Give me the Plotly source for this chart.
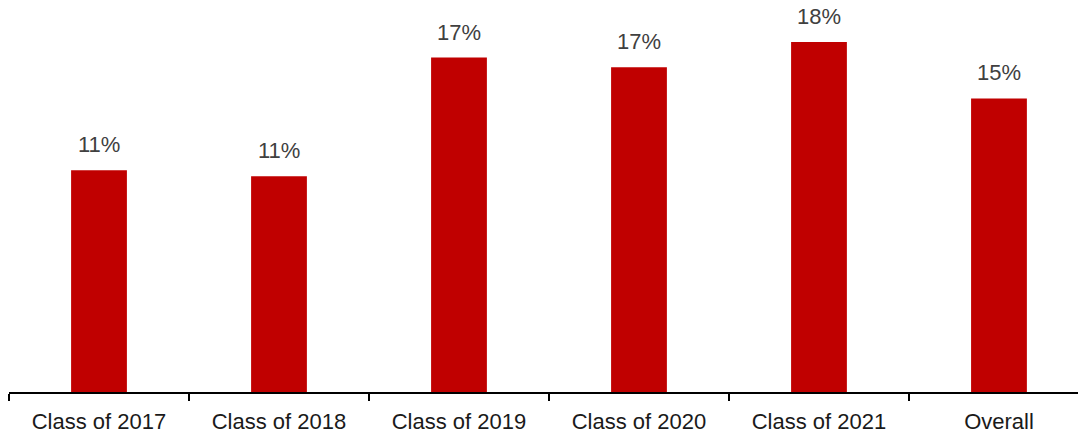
import plotly.graph_objects as go

categories = ["Class of 2017", "Class of 2018", "Class of 2019", "Class of 2020", "Class of 2021", "Overall"]
rates = [11.4, 11.1, 17.2, 16.7, 18.0, 15.1]

BAR_COLOR = "#c00000"
FONT = "Liberation Sans, Arial, sans-serif"

fig = go.Figure(
    go.Bar(
        x=categories,
        y=rates,
        marker=dict(color=BAR_COLOR, line=dict(width=0)),
        hoverinfo="skip",
    )
)

# Value labels above each bar, rounded to whole percents
for cat, val in zip(categories, rates):
    fig.add_annotation(
        x=cat,
        y=val,
        text=f"{val:.0f}%",
        showarrow=False,
        yanchor="bottom",
        yshift=11,
        font=dict(family=FONT, size=22, color="#404040"),
    )

fig.update_layout(
    width=1078,
    height=436,
    margin=dict(l=9, r=0, t=0, b=44),
    paper_bgcolor="white",
    plot_bgcolor="white",
    bargap=0.69,
    showlegend=False,
    font=dict(family=FONT),
)

fig.update_xaxes(
    type="category",
    range=[-0.5, 5.439],
    showline=True,
    linecolor="black",
    linewidth=2,
    ticks="outside",
    tickson="boundaries",
    ticklen=7,
    tickwidth=2,
    tickcolor="black",
    ticklabelstandoff=9,
    tickfont=dict(family=FONT, size=22, color="#1a1a1a"),
    showgrid=False,
    zeroline=False,
)

fig.update_yaxes(
    range=[0, 20.16],
    visible=False,
    showgrid=False,
    zeroline=False,
)

fig.write_html("out.html")
